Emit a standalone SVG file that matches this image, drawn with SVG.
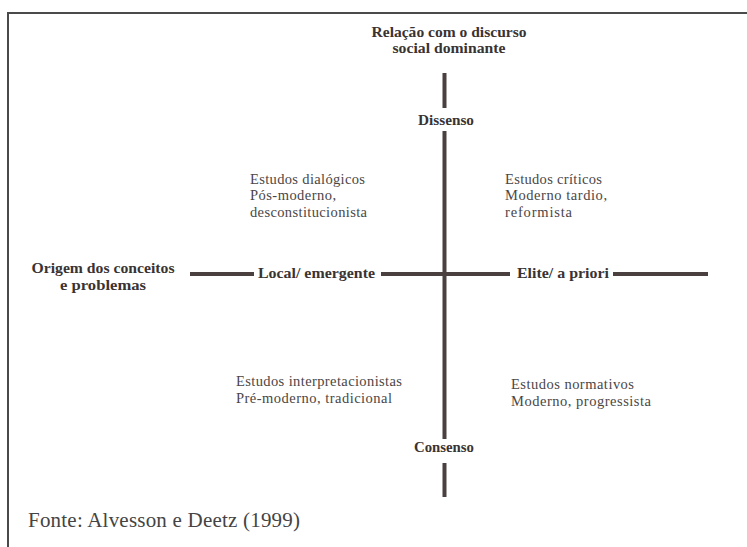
<svg xmlns="http://www.w3.org/2000/svg" width="747" height="547" viewBox="0 0 747 547">
<style>
.b{font-family:'Liberation Serif',serif;font-weight:bold;font-size:15px;fill:#3a3333}
.r{font-family:'Liberation Serif',serif;font-size:14.5px;fill:#4a4646}
.f{font-family:'Liberation Serif',serif;font-size:21px;fill:#444}
.ax{stroke:#4a4040;stroke-width:4;fill:none}
</style>
<rect width="747" height="547" fill="#fff"/>
<path d="M8,547 V13 H747" fill="none" stroke="#4a4a4a" stroke-width="2"/>
<g id="connectors">
<path class="ax" d="M444.5,73 V108 M444.5,131 V439 M444.5,463 V497"/>
<path class="ax" d="M190,274 H254 M381,274 H510 M613,274 H708"/>
</g>
<g id="title">
<text class="b" x="449" y="37" text-anchor="middle" textLength="155" lengthAdjust="spacingAndGlyphs">Relação com o discurso</text>
<text class="b" x="449" y="53" text-anchor="middle" textLength="113" lengthAdjust="spacingAndGlyphs">social dominante</text>
</g>
<g id="dissenso"><text class="b" x="446" y="125" text-anchor="middle" textLength="56" lengthAdjust="spacingAndGlyphs">Dissenso</text></g>
<g id="consenso"><text class="b" x="444" y="452" text-anchor="middle" textLength="60" lengthAdjust="spacingAndGlyphs">Consenso</text></g>
<g id="origem">
<text class="b" x="103" y="273" text-anchor="middle" textLength="143" lengthAdjust="spacingAndGlyphs">Origem dos conceitos</text>
<text class="b" x="103" y="290" text-anchor="middle" textLength="86" lengthAdjust="spacingAndGlyphs">e problemas</text>
</g>
<g id="local"><text class="b" x="258" y="278" textLength="117" lengthAdjust="spacingAndGlyphs">Local/ emergente</text></g>
<g id="elite"><text class="b" x="517" y="278" textLength="92" lengthAdjust="spacingAndGlyphs">Elite/ a priori</text></g>
<g id="dialogicos">
<text class="r" x="250" y="184" textLength="115">Estudos dialógicos</text>
<text class="r" x="250" y="200" textLength="86">Pós-moderno,</text>
<text class="r" x="250" y="217" textLength="117">desconstitucionista</text>
</g>
<g id="criticos">
<text class="r" x="505" y="184" textLength="97">Estudos críticos</text>
<text class="r" x="505" y="200" textLength="102">Moderno tardio,</text>
<text class="r" x="505" y="217" textLength="67">reformista</text>
</g>
<g id="interpretacionistas">
<text class="r" x="236" y="386" textLength="166">Estudos interpretacionistas</text>
<text class="r" x="236" y="403" textLength="156">Pré-moderno, tradicional</text>
</g>
<g id="normativos">
<text class="r" x="511" y="389" textLength="123">Estudos normativos</text>
<text class="r" x="511" y="406" textLength="140">Moderno, progressista</text>
</g>
<g id="fonte"><text class="f" x="28" y="527" textLength="272">Fonte: Alvesson e Deetz (1999)</text></g>
</svg>
